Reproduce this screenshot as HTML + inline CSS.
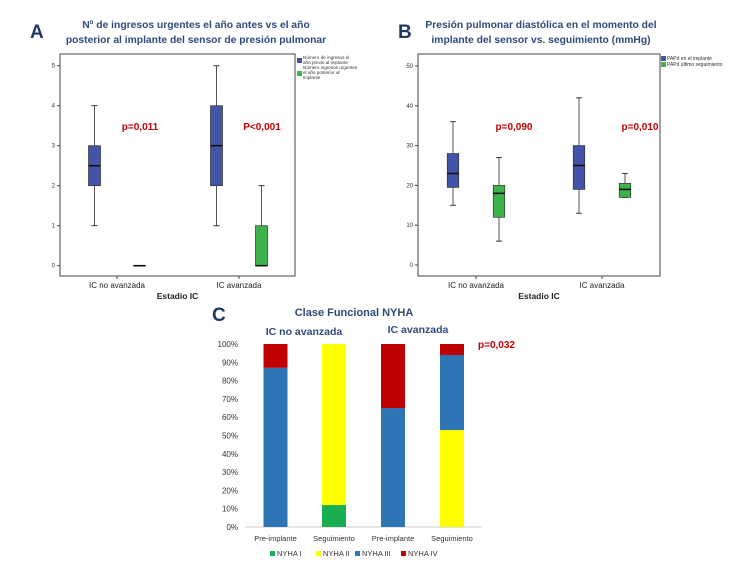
<!DOCTYPE html>
<html><head><meta charset="utf-8"><style>
body{margin:0;background:#fff;}
svg{display:block;font-family:"Liberation Sans",sans-serif;}
</style></head><body>
<svg id="c" width="750" height="563" viewBox="0 0 750 563"></svg>
<script>
// Panel A data
const aCats=["IC no avanzada","IC avanzada"];
const aPre=[[1,2,2.5,3,4],[1,2,3,4,5]];
const aPost=[[0,0,0,0,0],[0,0,0,1,2]];
const aTicks=[0,1,2,3,4,5];
const aP=["p=0,011","P<0,001"];
// Panel B data
const bCats=["IC no avanzada","IC avanzada"];
const bImpl=[[15,19.5,23,28,36],[13,19,25,30,42]];
const bFollow=[[6,12,18,20,27],[17,17,19,20.5,23]];
const bTicks=[0,10,20,30,40,50];
const bP=["p=0,090","p=0,010"];
// Panel C data
const cCats=["Pre-implante","Seguimiento","Pre-implante","Seguimiento"];
const cSeries=["NYHA I","NYHA II","NYHA III","NYHA IV"];
const cI=[0,12,0,0];
const cII=[0,88,0,53];
const cIII=[87,0,65,41];
const cIV=[13,0,35,6];
const cTicks=[0,10,20,30,40,50,60,70,80,90,100];

const svg=document.getElementById('c');
const NS="http://www.w3.org/2000/svg";
function el(t,a,p){const e=document.createElementNS(NS,t);for(const k in a)e.setAttribute(k,a[k]);(p||svg).appendChild(e);return e;}
function txt(x,y,s,a,p){const e=el('text',Object.assign({x:x,y:y},a),p);e.textContent=s;return e;}
const NAVY="#1f3864", TITLE="#2f4a7d", BLUE="#4255a8", GREEN="#3cb44b", RED="#c00000";

function boxPanel(g,o){
  const yS=v=>o.y0-(v-o.vmin)*(o.y0-o.y1)/(o.vmax-o.vmin);
  el('rect',{x:o.fx0,y:o.fy0,width:o.fx1-o.fx0,height:o.fy1-o.fy0,fill:'none',stroke:'#444','stroke-width':1},g);
  o.ticks.forEach(t=>{
    const tk=el('line',{x1:o.fx0-3,x2:o.fx0,y1:yS(t),y2:yS(t),stroke:'#444'},g);
    
    
    const l=txt(o.fx0-5,yS(t)+2,String(t),{'font-size':6,'text-anchor':'end',fill:'#333'},g);
    
    
  });
  const draw=(d,cx,col,nm)=>{
    const w=o.bw;
    const bg=el('g',{},g);
    
    
    el('line',{x1:cx,x2:cx,y1:yS(d[0]),y2:yS(d[4]),stroke:'#555','stroke-width':1},bg);
    el('line',{x1:cx-w/4,x2:cx+w/4,y1:yS(d[0]),y2:yS(d[0]),stroke:'#333'},bg);
    el('line',{x1:cx-w/4,x2:cx+w/4,y1:yS(d[4]),y2:yS(d[4]),stroke:'#333'},bg);
    el('rect',{x:cx-w/2,y:yS(d[3]),width:w,height:Math.max(0.5,yS(d[1])-yS(d[3])),fill:col,stroke:'#333','stroke-width':0.7},bg);
    el('line',{x1:cx-w/2,x2:cx+w/2,y1:yS(d[2]),y2:yS(d[2]),stroke:'#111','stroke-width':1.6},bg);
  };
  o.cats.forEach((c,i)=>{
    const cx=o.cx[i];
    const tk=el('line',{x1:cx,x2:cx,y1:o.fy1,y2:o.fy1+3,stroke:'#444'},g);
    
    
    draw(o.s1[i],cx-o.off,BLUE,'box-series1-'+i);
    draw(o.s2[i],cx+o.off,GREEN,'box-series2-'+i);
    const l=txt(cx,o.fy1+12,c,{'font-size':8,'text-anchor':'middle',fill:'#222'},g);
    
    
    const p=txt(cx+o.poff,130,o.p[i],{'font-size':10,'font-weight':'bold','text-anchor':'middle',fill:RED},g);
    
    
  });
  const xt=txt((o.fx0+o.fx1)/2,299,'Estadio IC',{'font-size':8.5,'font-weight':'bold','text-anchor':'middle',fill:'#222'},g);
  
  
}

// Panel A
const gA=el('g',{});


txt(30,38,'A',{'font-size':19,'font-weight':'bold',fill:NAVY},gA);
txt(196,28,'Nº de ingresos urgentes el año antes vs el año',{'font-size':10.3,'font-weight':'bold','text-anchor':'middle',fill:TITLE},gA);
txt(196,43,'posterior al implante del sensor de presión pulmonar',{'font-size':10.3,'font-weight':'bold','text-anchor':'middle',fill:TITLE},gA);
boxPanel(gA,{fx0:60,fx1:295,fy0:54,fy1:276,y0:265.7,y1:65.7,vmin:0,vmax:5,ticks:aTicks,cats:aCats,cx:[117,239],off:22.5,bw:12,s1:aPre,s2:aPost,p:aP,poff:23});
const lgA=el('g',{},gA);


el('rect',{x:297,y:58,width:5,height:5,fill:BLUE},lgA);
el('rect',{x:297,y:71,width:5,height:5,fill:GREEN},lgA);
[['Número de ingresos el',59],['año previo al implante',64],['Número ingresos urgentes',69],['el año posterior al',74],['implante',79]].forEach(a=>txt(303,a[1],a[0],{'font-size':4.6,fill:'#333'},lgA));

// Panel B
const gB=el('g',{});


txt(398,38,'B',{'font-size':19,'font-weight':'bold',fill:NAVY},gB);
txt(541,28,'Presión pulmonar diastólica en el momento del',{'font-size':10.3,'font-weight':'bold','text-anchor':'middle',fill:TITLE},gB);
txt(541,43,'implante del sensor vs. seguimiento (mmHg)',{'font-size':10.3,'font-weight':'bold','text-anchor':'middle',fill:TITLE},gB);
boxPanel(gB,{fx0:418,fx1:660,fy0:54,fy1:276,y0:265,y1:66,vmin:0,vmax:50,ticks:bTicks,cats:bCats,cx:[476,602],off:23,bw:11.5,s1:bImpl,s2:bFollow,p:bP,poff:38});
const lgB=el('g',{},gB);


el('rect',{x:661,y:56,width:5,height:5,fill:BLUE},lgB);
el('rect',{x:661,y:62,width:5,height:5,fill:GREEN},lgB);
txt(667,60,'PAPd en el implante',{'font-size':5,fill:'#333'},lgB);
txt(667,66,'PAPd último seguimiento',{'font-size':5,fill:'#333'},lgB);

// Panel C
const gC=el('g',{});


txt(212,321,'C',{'font-size':19,'font-weight':'bold',fill:NAVY},gC);
txt(354,316,'Clase Funcional NYHA',{'font-size':11,'font-weight':'bold','text-anchor':'middle',fill:TITLE},gC);
txt(304,335,'IC no avanzada',{'font-size':10.5,'font-weight':'bold','text-anchor':'middle',fill:TITLE},gC);
txt(418,333,'IC avanzada',{'font-size':10.5,'font-weight':'bold','text-anchor':'middle',fill:TITLE},gC);
const pc=txt(478,348,'p=0,032',{'font-size':10,'font-weight':'bold',fill:RED},gC);


const cY=v=>527-v*(527-344)/100;
cTicks.forEach(t=>{
  const l=txt(238,cY(t)+3,t+'%',{'font-size':8,'text-anchor':'end',fill:'#333'},gC);
  
  
});
el('line',{x1:245,x2:482,y1:527,y2:527,stroke:'#ccc'},gC);
const cx=[275.5,334,393,452];
const cCols=['#1aae52','#ffff00','#2e75b6','#c00000'];
const cData=[cI,cII,cIII,cIV];
cCats.forEach((c,i)=>{
  let acc=0;
  cData.forEach((s,k)=>{
    if(s[i]>0){
      const r=el('rect',{x:cx[i]-12,y:cY(acc+s[i]),width:24,height:cY(acc)-cY(acc+s[i]),fill:cCols[k]},gC);
      
      
    }
    acc+=s[i];
  });
  const l=txt(cx[i],541,c,{'font-size':7.5,'text-anchor':'middle',fill:'#333'},gC);
  
  
});
const lgC=el('g',{},gC);


const lx=[270,316,355,401];
cSeries.forEach((s,k)=>{
  el('rect',{x:lx[k],y:551,width:5,height:5,fill:cCols[k]},lgC);
  txt(lx[k]+7,556,s,{'font-size':7.5,fill:'#333'},lgC);
});
</script>
</body></html>
